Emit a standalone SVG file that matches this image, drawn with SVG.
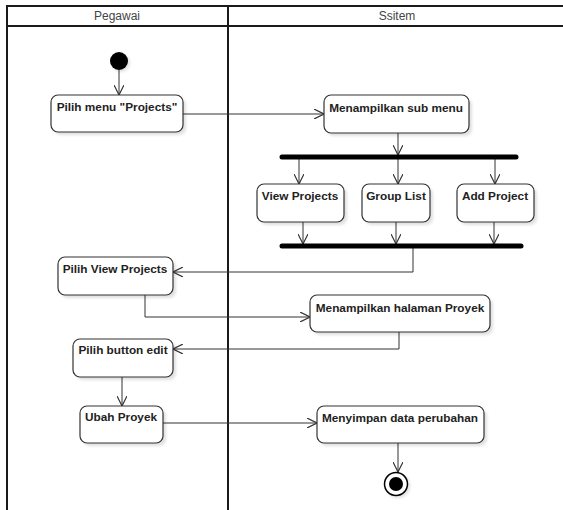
<svg xmlns="http://www.w3.org/2000/svg" width="563" height="510" viewBox="0 0 563 510">
  <defs>
    <marker id="arrow" viewBox="0 0 10 10" refX="10" refY="5" markerWidth="10" markerHeight="10" markerUnits="userSpaceOnUse" orient="auto">
      <path d="M0,0 L10,5 L0,10" fill="none" stroke="#333" stroke-width="1.2"/>
    </marker>
    <filter id="soft" x="-20%" y="-20%" width="140%" height="160%">
      <feGaussianBlur stdDeviation="1.5"/>
    </filter>
  </defs>
  <style>
    .lane { stroke: #1a1a1a; stroke-width: 2; fill: none; }
    .head { font-family: "Liberation Sans", Arial, sans-serif; font-size: 12px; fill: #444; text-anchor: middle; }
    .box { fill: #fff; stroke: #333; stroke-width: 1.2; }
    .shadow { fill: #000; opacity: 0.12; filter: url(#soft); }
    .lbl { font-family: "Liberation Sans", Arial, sans-serif; font-size: 11.8px; font-weight: bold; fill: #222; text-anchor: middle; }
    .edge { fill: none; stroke: #333; stroke-width: 1; marker-end: url(#arrow); }
    .bar { stroke: #000; stroke-width: 5; stroke-linecap: round; }
  </style>
  <rect width="563" height="510" fill="#fff"/>

  <!-- swimlanes -->
  <g id="lanes">
    <line class="lane" x1="6" y1="6" x2="563" y2="6"/>
    <line class="lane" x1="6" y1="26" x2="563" y2="26"/>
    <line class="lane" x1="7" y1="5" x2="7" y2="510"/>
    <line class="lane" x1="228" y1="5" x2="228" y2="510"/>
    <text class="head" x="117" y="20">Pegawai</text>
    <text class="head" x="397" y="20">Ssitem</text>
  </g>

  <!-- connectors -->
  <g id="connectors">
    <line class="edge" x1="119" y1="70" x2="119" y2="95"/>
    <line class="edge" x1="183" y1="114" x2="324" y2="114"/>
    <line class="edge" x1="398" y1="133" x2="398" y2="155"/>
    <line class="edge" x1="299" y1="159" x2="299" y2="184"/>
    <line class="edge" x1="398" y1="159" x2="398" y2="184"/>
    <line class="edge" x1="495" y1="159" x2="495" y2="184"/>
    <line class="edge" x1="303" y1="222" x2="303" y2="244"/>
    <line class="edge" x1="396" y1="222" x2="396" y2="244"/>
    <line class="edge" x1="494" y1="222" x2="494" y2="244"/>
    <polyline class="edge" points="413,248 413,272 173,272"/>
    <polyline class="edge" points="145,295 145,317 310,317"/>
    <polyline class="edge" points="399,332 399,349 173,349"/>
    <line class="edge" x1="122" y1="377" x2="122" y2="406"/>
    <line class="edge" x1="163" y1="423" x2="317" y2="423"/>
    <line class="edge" x1="398" y1="443" x2="398" y2="472"/>
  </g>

  <!-- start -->
  <g id="start">
    <circle cx="121" cy="63" r="9" class="shadow"/>
    <circle cx="119" cy="61" r="9" fill="#000"/>
  </g>

  <g id="pilih-menu">
    <rect class="shadow" x="54" y="98" width="132" height="37" rx="7"/>
    <rect class="box" x="51" y="95" width="132" height="37" rx="7"/>
    <text class="lbl" x="117" y="111">Pilih menu "Projects"</text>
  </g>

  <g id="sub-menu">
    <rect class="shadow" x="327" y="98" width="145" height="38" rx="7"/>
    <rect class="box" x="324" y="95" width="145" height="38" rx="7"/>
    <text class="lbl" x="396" y="112">Menampilkan sub menu</text>
  </g>

  <g id="fork">
    <line class="bar" x1="282" y1="157" x2="516" y2="157"/>
  </g>

  <g id="view-projects">
    <rect class="shadow" x="260" y="187" width="87" height="38" rx="7"/>
    <rect class="box" x="257" y="184" width="87" height="38" rx="7"/>
    <text class="lbl" x="300" y="200">View Projects</text>
  </g>

  <g id="group-list">
    <rect class="shadow" x="365" y="187" width="68" height="38" rx="7"/>
    <rect class="box" x="362" y="184" width="68" height="38" rx="7"/>
    <text class="lbl" x="396" y="200">Group List</text>
  </g>

  <g id="add-project">
    <rect class="shadow" x="460" y="187" width="77" height="38" rx="7"/>
    <rect class="box" x="457" y="184" width="77" height="38" rx="7"/>
    <text class="lbl" x="495" y="200">Add Project</text>
  </g>

  <g id="join">
    <line class="bar" x1="282" y1="246" x2="521" y2="246"/>
  </g>

  <g id="pilih-view">
    <rect class="shadow" x="61" y="260" width="115" height="38" rx="7"/>
    <rect class="box" x="58" y="257" width="115" height="38" rx="7"/>
    <text class="lbl" x="115" y="273">Pilih View Projects</text>
  </g>

  <g id="halaman-proyek">
    <rect class="shadow" x="313" y="298" width="180" height="37" rx="7"/>
    <rect class="box" x="310" y="295" width="180" height="37" rx="7"/>
    <text class="lbl" x="400" y="312">Menampilkan halaman Proyek</text>
  </g>

  <g id="pilih-edit">
    <rect class="shadow" x="76" y="342" width="100" height="38" rx="7"/>
    <rect class="box" x="73" y="339" width="100" height="38" rx="7"/>
    <text class="lbl" x="123" y="354">Pilih button edit</text>
  </g>

  <g id="ubah-proyek">
    <rect class="shadow" x="83" y="409" width="83" height="37" rx="7"/>
    <rect class="box" x="80" y="406" width="83" height="37" rx="7"/>
    <text class="lbl" x="121" y="421">Ubah Proyek</text>
  </g>

  <g id="simpan">
    <rect class="shadow" x="320" y="409" width="167" height="37" rx="7"/>
    <rect class="box" x="317" y="406" width="167" height="37" rx="7"/>
    <text class="lbl" x="400" y="422">Menyimpan data perubahan</text>
  </g>

  <!-- end -->
  <g id="end">
    <circle cx="398" cy="486" r="12" class="shadow"/>
    <circle cx="396" cy="484" r="11.5" fill="#fff" stroke="#000" stroke-width="1.5"/>
    <circle cx="396" cy="484" r="7" fill="#000"/>
  </g>
</svg>
